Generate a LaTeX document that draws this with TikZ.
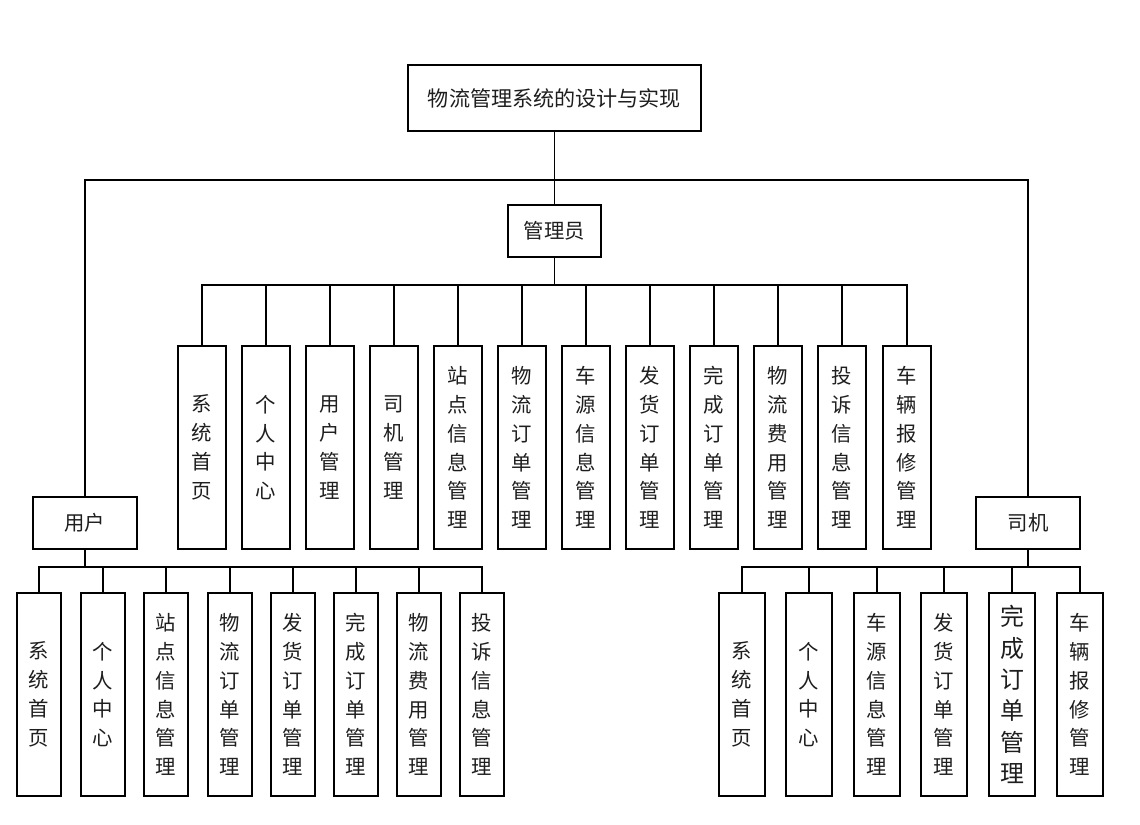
\documentclass[tikz,border=0pt]{standalone}
\usepackage{fontspec}
\setmainfont{Noto Sans CJK SC}
\usepackage{xcolor}
\definecolor{ink}{HTML}{1E1E1E}

\begin{document}
\begin{tikzpicture}[x=0.025cm,y=-0.025cm,line width=1.3pt,
  head/.style={draw,fill=white,inner sep=0pt,text=ink,
    font=\fontsize{14.5}{17}\selectfont},
  leaf/.style={draw,fill=white,inner sep=0pt,text=ink,align=center,
    minimum height=5.075cm,font=\fontsize{14.5}{20.5}\selectfont},
  aleaf/.style={leaf,minimum width=1.2cm},
  uleaf/.style={leaf,minimum width=1.1cm},
  dleaf/.style={leaf,minimum width=1.15cm}]
\useasboundingbox (0,0) rectangle (1140,824);
% top level
\node[head,minimum width=7.325cm,minimum height=1.65cm,
      font=\fontsize{15}{18}\selectfont] (title) at (554.5,98)
      {物流管理系统的设计与实现};
\node[head,minimum width=2.325cm,minimum height=1.3cm] (admin) at (554.5,231) {管理员};
\node[head,minimum width=2.6cm,minimum height=1.3cm] (user) at (85,523) {用户};
\node[head,minimum width=2.6cm,minimum height=1.3cm] (driver) at (1028,523) {司机};
\coordinate (bus) at (554.5,180);
\draw (title) -- (admin);
\draw (user.north) |- (bus) -| (driver.north);
% admin modules
\node[aleaf] (a1)  at (202,447.5) {系\\统\\首\\页};
\node[aleaf] (a2)  at (266,447.5) {个\\人\\中\\心};
\node[aleaf] (a3)  at (330,447.5) {用\\户\\管\\理};
\node[aleaf] (a4)  at (394,447.5) {司\\机\\管\\理};
\node[aleaf] (a5)  at (458,447.5) {站\\点\\信\\息\\管\\理};
\node[aleaf] (a6)  at (522,447.5) {物\\流\\订\\单\\管\\理};
\node[aleaf] (a7)  at (586,447.5) {车\\源\\信\\息\\管\\理};
\node[aleaf] (a8)  at (650,447.5) {发\\货\\订\\单\\管\\理};
\node[aleaf] (a9)  at (714,447.5) {完\\成\\订\\单\\管\\理};
\node[aleaf] (a10) at (778,447.5) {物\\流\\费\\用\\管\\理};
\node[aleaf] (a11) at (842,447.5) {投\\诉\\信\\息\\管\\理};
\node[aleaf] (a12) at (907,447.5) {车\\辆\\报\\修\\管\\理};
\coordinate (abus) at (554.5,285);
\draw (admin.south) -- (abus);
\draw (abus) -| (a1.north);  \draw (abus) -| (a2.north);
\draw (abus) -| (a3.north);  \draw (abus) -| (a4.north);
\draw (abus) -| (a5.north);  \draw (abus) -| (a6.north);
\draw (abus) -| (a7.north);  \draw (abus) -| (a8.north);
\draw (abus) -| (a9.north);  \draw (abus) -| (a10.north);
\draw (abus) -| (a11.north); \draw (abus) -| (a12.north);
% user modules
\node[uleaf] (u1) at (39,694.5)  {系\\统\\首\\页};
\node[uleaf] (u2) at (103,694.5) {个\\人\\中\\心};
\node[uleaf] (u3) at (166,694.5) {站\\点\\信\\息\\管\\理};
\node[uleaf] (u4) at (230,694.5) {物\\流\\订\\单\\管\\理};
\node[uleaf] (u5) at (293,694.5) {发\\货\\订\\单\\管\\理};
\node[uleaf] (u6) at (356,694.5) {完\\成\\订\\单\\管\\理};
\node[uleaf] (u7) at (419,694.5) {物\\流\\费\\用\\管\\理};
\node[uleaf] (u8) at (482,694.5) {投\\诉\\信\\息\\管\\理};
\coordinate (ubus) at (85,567);
\draw (user.south) -- (ubus);
\draw (ubus) -| (u1.north); \draw (ubus) -| (u2.north);
\draw (ubus) -| (u3.north); \draw (ubus) -| (u4.north);
\draw (ubus) -| (u5.north); \draw (ubus) -| (u6.north);
\draw (ubus) -| (u7.north); \draw (ubus) -| (u8.north);
% driver modules
\node[dleaf] (d1) at (742,694.5)  {系\\统\\首\\页};
\node[dleaf] (d2) at (809,694.5)  {个\\人\\中\\心};
\node[dleaf] (d3) at (877,694.5)  {车\\源\\信\\息\\管\\理};
\node[dleaf] (d4) at (944,694.5)  {发\\货\\订\\单\\管\\理};
\node[dleaf,font=\fontsize{17}{22.3}\selectfont] (d5) at (1012,694.5)
      {完\\成\\订\\单\\管\\理};
\node[dleaf] (d6) at (1080,694.5) {车\\辆\\报\\修\\管\\理};
\coordinate (dbus) at (1028,567);
\draw (driver.south) -- (dbus);
\draw (dbus) -| (d1.north); \draw (dbus) -| (d2.north);
\draw (dbus) -| (d3.north); \draw (dbus) -| (d4.north);
\draw (dbus) -| (d5.north); \draw (dbus) -| (d6.north);
\end{tikzpicture}
\end{document}
